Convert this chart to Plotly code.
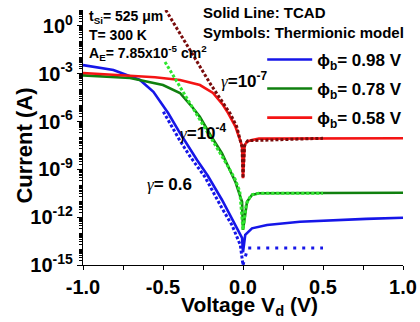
import plotly.graph_objects as go

# ---------------- data ----------------
# TCAD, phi_b = 0.98 V (blue solid)
v_tcad_098 = [-1.0, -0.9, -0.81, -0.644, -0.56, -0.467, -0.394, -0.2875, -0.22, -0.131, -0.048, -0.006, 0.0,
              0.014, 0.056, 0.15, 0.356, 0.563, 0.77, 1.0]
i_tcad_098 = [3.5e-3, 2.5e-3, 1.7e-3, 4.1e-4, 7.4e-5, 3.3e-6, 1.9e-7, 3.9e-9, 4.0e-10, 1.2e-11, 3.2e-13, 5.0e-14, 6.3e-15,
              7.9e-14, 2.0e-13, 3.2e-13, 5.2e-13, 6.6e-13, 7.8e-13, 9.3e-13]

# TCAD, phi_b = 0.78 V (dark green solid)
v_tcad_078 = [-1.0, -0.85, -0.706, -0.5, -0.394, -0.3125, -0.27, -0.2, -0.131, -0.048, -0.006, 0.0,
              0.025, 0.056, 0.1, 0.5, 1.0]
i_tcad_078 = [7.9e-4, 6.6e-4, 5.4e-4, 1.95e-4, 6.2e-5, 7.1e-6, 2.0e-6, 1.26e-7, 1.0e-8, 1.7e-10, 9.3e-12, 1.6e-13,
              9.3e-12, 2.5e-11, 3.2e-11, 3.3e-11, 3.4e-11]

# TCAD, phi_b = 0.58 V (red solid)
v_tcad_058 = [-1.0, -0.706, -0.55, -0.394, -0.269, -0.1875, -0.125, -0.094, -0.048, -0.006, 0.0,
              0.01, 0.025, 0.056, 0.1, 1.0]
i_tcad_058 = [1.12e-3, 7.2e-4, 6.0e-4, 4.1e-4, 1.95e-4, 6.2e-5, 1.1e-5, 3.5e-6, 5.0e-7, 3.0e-8, 2.8e-10,
              3.2e-8, 5.6e-8, 6.9e-8, 8.5e-8, 8.9e-8]

# Thermionic model, gamma = 0.6 (blue symbols)
v_th_06_left = [-0.498, -0.394, -0.33, -0.2375, -0.131, -0.069, -0.017, 0.0]
i_th_06_left = [4.2e-6, 6.3e-8, 6.3e-9, 3.3e-10, 3.6e-12, 3.2e-13, 1.8e-14, 1.0e-15]
v_th_06_right = [0.0, 0.03, 0.5]
i_th_06_right = [1.0e-15, 1.15e-14, 1.17e-14]

# Thermionic model, gamma = 1e-4 (light green symbols)
v_th_1e4 = [-0.4875, -0.4, -0.3, -0.2, -0.1, -0.05, -0.02, 0.0, 0.02, 0.05, 0.1, 0.5]
i_th_1e4 = [5.5e-3, 2.0e-4, 4.0e-6, 1.0e-7, 2.0e-9, 2.5e-10, 4.0e-11, 1.6e-13, 6.3e-12, 2.5e-11, 3.2e-11, 3.2e-11]

# Thermionic model, gamma = 1e-7 (dark red symbols)
v_th_1e7 = [-0.483, -0.4, -0.3125, -0.2, -0.1, -0.081, -0.04, -0.006, 0.0, 0.01, 0.03, 0.5]
i_th_1e7 = [10.0, 0.45, 1.5e-2, 2.0e-4, 6.3e-6, 3.3e-6, 5.0e-7, 2.5e-8, 2.8e-10, 3.2e-8, 6.3e-8, 8.9e-8]

legend_names = ["ϕ<sub>b</sub>= 0.98 V", "ϕ<sub>b</sub>= 0.78 V", "ϕ<sub>b</sub>= 0.58 V"]

x_tickvals = [-1.0, -0.5, 0.0, 0.5, 1.0]
x_ticktext = ["-1.0", "-0.5", "0.0", "0.5", "1.0"]
x_minor = [-0.75, -0.25, 0.25, 0.75]
y_exps = [0, -3, -6, -9, -12, -15]

x_title = "Voltage V<sub>d</sub> (V)"
y_title = "Current (A)"

# ---------------- styling ----------------
FONT = "Liberation Sans, Arial, sans-serif"
SERIF = "Liberation Serif, Times New Roman, serif"
BLUE = "#1616e8"
DGREEN = "#10800f"
RED = "#f41414"
LGREEN = "#2fe62f"
MAROON = "#7a0c0c"

fig = go.Figure()

solid = [(v_tcad_098, i_tcad_098, BLUE, legend_names[0]),
         (v_tcad_078, i_tcad_078, DGREEN, legend_names[1]),
         (v_tcad_058, i_tcad_058, RED, legend_names[2])]
for k, (v, i, c, n) in enumerate(solid):
    fig.add_trace(go.Scatter(x=v, y=i, mode="lines", name=n, legendgroup=f"g{k}",
                             line=dict(color=c, width=2.6)))

fig.add_trace(go.Scatter(x=v_th_06_left, y=i_th_06_left, mode="lines", showlegend=False,
                         line=dict(color=BLUE, width=3, dash="3px,2px")))
fig.add_trace(go.Scatter(x=v_th_06_right, y=i_th_06_right, mode="lines", showlegend=False,
                         line=dict(color=BLUE, width=3, dash="3px,6px")))
fig.add_trace(go.Scatter(x=v_th_1e4, y=i_th_1e4, mode="lines", showlegend=False,
                         line=dict(color=LGREEN, width=3, dash="3px,2px")))
fig.add_trace(go.Scatter(x=v_th_1e7, y=i_th_1e7, mode="lines", showlegend=False,
                         line=dict(color=MAROON, width=3, dash="3px,2px")))

y_minor_vals = []
for e in range(-15, 1):
    for m in range(1, 10):
        y_minor_vals.append(m * 10.0 ** e)

fig.update_xaxes(range=[-1, 1], tickmode="array", tickvals=x_tickvals, ticktext=x_ticktext,
                 automargin=False,
                 ticks="outside", ticklen=4, tickwidth=1.3, tickcolor="black",
                 showline=True, linecolor="black", linewidth=1.3, showgrid=False, zeroline=False,
                 tickfont=dict(family=FONT, size=20, color="black", weight="bold"),
                 minor=dict(tickmode="array", tickvals=x_minor, ticks="outside", ticklen=4,
                            tickwidth=1.3, tickcolor="black", showgrid=False))

fig.update_yaxes(type="log", range=[-15, 1], tickmode="array",
                 automargin=False,
                 tickvals=[10.0 ** e for e in y_exps],
                 ticktext=[f"10<sup>{e}</sup>" for e in y_exps],
                 ticks="outside", ticklen=5, tickwidth=1.3, tickcolor="black",
                 showline=True, linecolor="black", linewidth=1.3, showgrid=False, zeroline=False,
                 tickfont=dict(family=FONT, size=20, color="black", weight="bold"),
                 minor=dict(tickmode="array", tickvals=y_minor_vals, ticks="outside", ticklen=3,
                            tickwidth=1, tickcolor="black", showgrid=False))

# axis titles (placed as text so their distance to the tick labels matches)
fig.add_annotation(text=f"<b>{x_title}</b>", x=0.52, y=-0.16, xref="paper", yref="paper",
                   xanchor="center", yanchor="middle", showarrow=False,
                   font=dict(family=FONT, size=21, color="black"))
fig.add_annotation(text=f"<b>{y_title}</b>", x=-0.183, y=0.47, xref="paper", yref="paper",
                   xanchor="center", yanchor="middle", showarrow=False, textangle=-90,
                   font=dict(family=FONT, size=22, color="black"))

annots = [
    dict(text="<b>t<sub>Si</sub>= 525 μm</b>", x=0.012, y=0.973, size=14),
    dict(text="<b>T= 300 K</b>", x=0.012, y=0.902, size=14),
    dict(text="<b>A<sub>E</sub>= 7.85x10<sup>-5</sup> cm<sup>2</sup></b>", x=0.012, y=0.831, size=14),
    dict(text="<b>Solid Line: TCAD</b>", x=0.37, y=0.99, size=15),
    dict(text="<b>Symbols: Thermionic model</b>", x=0.37, y=0.91, size=15),
]
for a in annots:
    fig.add_annotation(text=a["text"], x=a["x"], y=a["y"], xref="paper", yref="paper",
                       xanchor="left", yanchor="middle", showarrow=False,
                       font=dict(family=FONT, size=a["size"], color="black"))

G = f"<span style='font-family:{SERIF}'><i>γ</i></span>"
gammas = [(G + "<b>=10<sup>-7</sup></b>", 0.505, 0.725),
          (G + "<b>=10<sup>-4</sup></b>", 0.378, 0.522),
          (G + "<b>= 0.6</b>", 0.27, 0.314)]
for t, x, y in gammas:
    fig.add_annotation(text=t, x=x, y=y, xref="paper", yref="paper", xanchor="center",
                       yanchor="middle", showarrow=False,
                       font=dict(family=FONT, size=17, color="black"))

fig.update_layout(
    width=420, height=322,
    margin=dict(l=83, r=17, t=10, b=57),
    paper_bgcolor="white", plot_bgcolor="white",
    showlegend=True,
    legend=dict(x=0.56, y=0.875, xanchor="left", yanchor="top", bgcolor="rgba(0,0,0,0)",
                traceorder="grouped", tracegroupgap=4, itemwidth=45,
                font=dict(family=FONT, size=17, color="black", weight="bold")),
)

fig.write_html("out.html", config={"displayModeBar": False},
               post_script="document.body.style.margin='0';document.body.style.padding='0';")
